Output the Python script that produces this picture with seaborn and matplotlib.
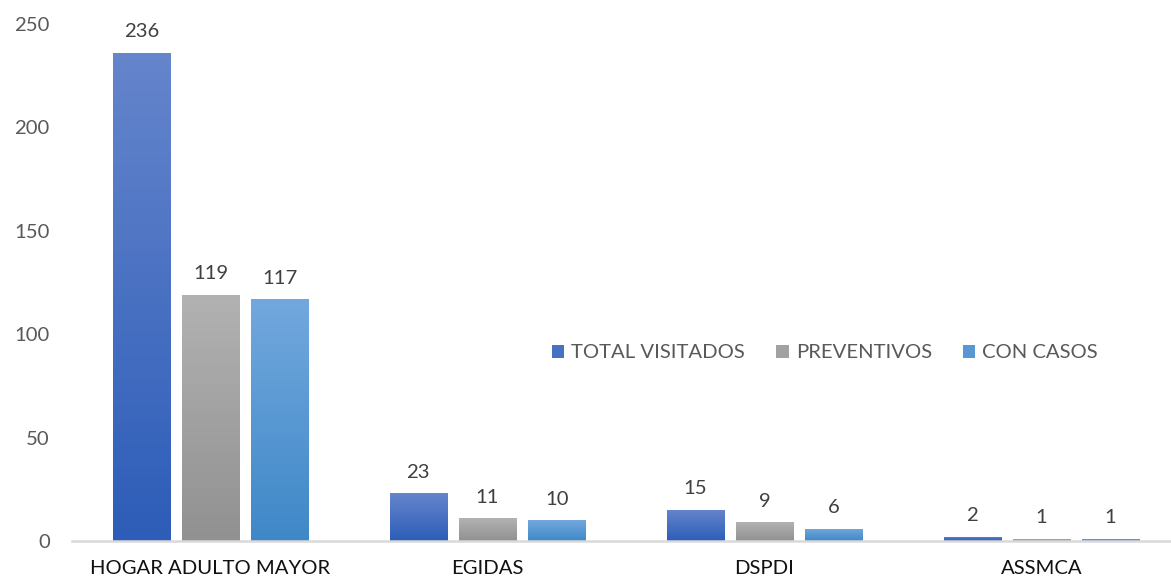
import numpy as np
import pandas as pd
import matplotlib
matplotlib.use("Agg")
import matplotlib.pyplot as plt
import matplotlib.patches as mpatches
from matplotlib.colors import LinearSegmentedColormap
import seaborn as sns

categories = ["HOGAR ADULTO MAYOR", "EGIDAS", "DSPDI", "ASSMCA"]
series = ["TOTAL VISITADOS", "PREVENTIVOS", "CON CASOS"]
total_visitados = [236, 23, 15, 2]
preventivos = [119, 11, 9, 1]
con_casos = [117, 10, 6, 1]
yticks = [0, 50, 100, 150, 200, 250]

grad = {
    "TOTAL VISITADOS": ("#6585CC", "#2D5DB8"),
    "PREVENTIVOS": ("#B2B2B2", "#919191"),
    "CON CASOS": ("#72A8DD", "#3F88C8"),
}
mid = {k: matplotlib.colors.to_hex((np.array(matplotlib.colors.to_rgb(a)) + np.array(matplotlib.colors.to_rgb(b))) / 2)
       for k, (a, b) in grad.items()}

df = pd.DataFrame({
    "cat": categories * 3,
    "serie": [s for s in series for _ in categories],
    "val": total_visitados + preventivos + con_casos,
})

sns.set_theme(style="white")
plt.rcParams["font.family"] = ["Lato", "DejaVu Sans"]

FS = 14.6

fig = plt.figure(figsize=(11.71, 5.82), dpi=100)
ax = fig.add_axes([72 / 1171, 41 / 582, 1108 / 1171, 517 / 582])

sns.barplot(data=df, x="cat", y="val", hue="serie", order=categories, hue_order=series,
            palette=mid, width=0.75, gap=0.175, ax=ax, legend=False, saturation=1)

# gradients
for cont, s in zip(ax.containers, series):
    top, bot = grad[s]
    cmap = LinearSegmentedColormap.from_list(s, [bot, top])
    for p in cont.patches:
        x0, y0 = p.get_x(), p.get_y()
        w, h = p.get_width(), p.get_height()
        if h <= 0:
            continue
        img = np.linspace(0, 1, 100).reshape(-1, 1)
        im = ax.imshow(img, cmap=cmap, origin="lower", aspect="auto",
                       extent=(x0, x0 + w, y0, y0 + h), zorder=p.get_zorder() + 0.1)
        im.set_clip_path(p)
    ax.bar_label(cont, padding=9, fontsize=FS, color="#404040")

ax.set_xlim(-0.5, 3.5)
ax.set_ylim(0, 250)
ax.set_yticks(yticks)
ax.tick_params(axis="y", length=0, pad=16, labelsize=FS, labelcolor="#595959")
ax.tick_params(axis="x", length=0, pad=14, labelsize=FS, labelcolor="#111111")
ax.set_xlabel("")
ax.set_ylabel("")
for side in ["top", "right", "left"]:
    ax.spines[side].set_visible(False)
ax.spines["bottom"].set_color("#D9D9D9")
ax.spines["bottom"].set_linewidth(1.8)
ax.grid(False)

handles = [mpatches.Patch(facecolor=mid[s], edgecolor="none", label=s) for s in series]
ax.legend(handles=handles, loc="center", bbox_to_anchor=(825 / 1171, (582 - 353) / 582),
          bbox_transform=fig.transFigure, ncol=3, frameon=False, fontsize=FS,
          labelcolor="#595959", handlelength=0.6, handleheight=0.6, handletextpad=0.35,
          columnspacing=1.55)

fig.savefig("out.png", dpi=100)
